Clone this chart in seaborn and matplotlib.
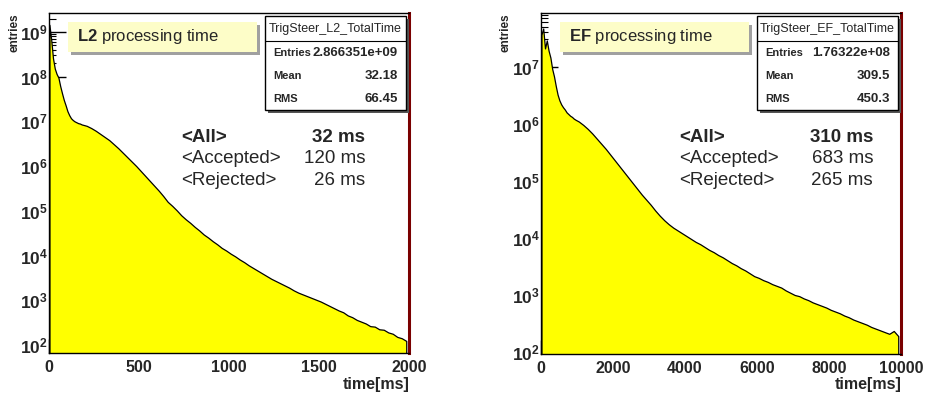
import numpy as np
import pandas as pd
import matplotlib
matplotlib.use("Agg")
import matplotlib.pyplot as plt
from matplotlib.patches import Rectangle
from matplotlib.lines import Line2D
from matplotlib.ticker import LogLocator, MultipleLocator, FixedLocator, FuncFormatter, NullFormatter
import seaborn as sns

# L2 histogram: bin edges [ms] and log10(entries) per bin
l2_edges = np.concatenate([np.arange(0, 200, 10), np.arange(200, 2001, 25)])
l2_log_entries = [
    9.15, 8.82, 8.40, 8.17, 8.05, 7.97, 7.78, 7.62, 7.47, 7.35,
    7.22, 7.13, 7.06, 7.02, 6.99, 6.97, 6.95, 6.94, 6.92, 6.91,
    6.89, 6.84, 6.78, 6.71, 6.64, 6.57, 6.48, 6.39,
    6.29, 6.19, 6.09, 5.99, 5.88, 5.77, 5.66, 5.55,
    5.44, 5.32, 5.19, 5.10, 5.00, 4.89, 4.80, 4.72,
    4.63, 4.55, 4.46, 4.39, 4.31, 4.24, 4.16, 4.10,
    4.03, 3.97, 3.90, 3.84, 3.77, 3.71, 3.65, 3.59,
    3.53, 3.47, 3.42, 3.37, 3.32, 3.27, 3.21, 3.16,
    3.12, 3.08, 3.04, 3.00, 2.96, 2.91, 2.86, 2.81,
    2.76, 2.72, 2.65, 2.61, 2.55, 2.51, 2.47, 2.41,
    2.40, 2.34, 2.33, 2.27, 2.24, 2.17, 2.14, 2.08,
]
l2_decades = [2, 3, 4, 5, 6, 7, 8, 9]

# EF histogram
ef_edges = np.concatenate([np.arange(0, 1000, 50), np.arange(1000, 10001, 125)])
ef_log_entries = [
    7.55, 7.66, 7.31, 7.45, 7.27, 7.15, 6.95, 6.82, 6.65, 6.50,
    6.40, 6.33, 6.28, 6.24, 6.19, 6.16, 6.13, 6.11, 6.08, 6.06,
    6.03, 5.97, 5.90, 5.82, 5.73, 5.64, 5.55, 5.45,
    5.35, 5.25, 5.15, 5.05, 4.95, 4.85, 4.75, 4.66,
    4.57, 4.47, 4.38, 4.30, 4.23, 4.17, 4.12, 4.07,
    4.02, 3.97, 3.92, 3.88, 3.83, 3.78, 3.74, 3.69,
    3.65, 3.60, 3.55, 3.51, 3.46, 3.42, 3.37, 3.32,
    3.29, 3.25, 3.22, 3.18, 3.15, 3.12, 3.07, 3.03,
    2.99, 2.97, 2.93, 2.90, 2.86, 2.83, 2.80, 2.77,
    2.73, 2.70, 2.67, 2.63, 2.60, 2.56, 2.53, 2.50,
    2.47, 2.43, 2.40, 2.37, 2.34, 2.31, 2.36, 2.27,
]
ef_decades = [2, 3, 4, 5, 6, 7]

hist_names = ["TrigSteer_L2_TotalTime", "TrigSteer_EF_TotalTime"]
stat_labels = ["Entries", "Mean", "RMS"]
l2_stats = ["2.866351e+09", "32.18", "66.45"]
ef_stats = ["1.76322e+08", "309.5", "450.3"]
levels = ["L2", "EF"]
mean_labels = ["<All>", "<Accepted>", "<Rejected>"]
l2_means = ["32 ms", "120 ms", "26 ms"]
ef_means = ["310 ms", "683 ms", "265 ms"]

sns.set_style("ticks")
plt.rcParams["font.family"] = ["Liberation Sans", "DejaVu Sans"]
plt.rcParams["mathtext.fontset"] = "custom"
plt.rcParams["mathtext.rm"] = "Liberation Sans"
plt.rcParams["mathtext.bf"] = "Liberation Sans:bold"
plt.rcParams["mathtext.it"] = "Liberation Sans:italic"

W, H = 925, 394
fig = plt.figure(figsize=(W / 100, H / 100), dpi=100)


def fx(px):
    return px / W


def fy(py):
    return 1 - py / H


def box(x0, y0, x1, y1, face, shadow, sh=3, lw=0.8, edge="none"):
    fig.add_artist(Rectangle((fx(x0 + sh), fy(y1 + sh)), fx(x1 - x0), (y1 - y0) / H,
                             transform=fig.transFigure, facecolor=shadow, edgecolor="none", zorder=5))
    fig.add_artist(Rectangle((fx(x0), fy(y1)), fx(x1 - x0), (y1 - y0) / H,
                             transform=fig.transFigure, facecolor=face, edgecolor=edge,
                             linewidth=lw, zorder=6))


def decade_label(v, pos):
    return r"$\mathbf{10^{%d}}$" % int(round(np.log10(v)))


panels = [
    dict(rect=[49, 13, 409, 353], edges=l2_edges, logs=l2_log_entries, xmax=2000,
         major=500, minor=100, ylim=(66.2, 2.66e9), decades=l2_decades,
         stats=l2_stats, means=l2_means),
    dict(rect=[541, 13, 901, 354], edges=ef_edges, logs=ef_log_entries, xmax=10000,
         major=2000, minor=500, ylim=(92.3, 8.7e7), decades=ef_decades,
         stats=ef_stats, means=ef_means),
]

for i, p in enumerate(panels):
    x0, y0, x1, y1 = p["rect"]
    ax = fig.add_axes([fx(x0), fy(y1), fx(x1 - x0), (y1 - y0) / H])
    ax.set_yscale("log")
    edges = p["edges"]
    df = pd.DataFrame({
        "time": (edges[:-1] + edges[1:]) / 2,
        "entries": 10 ** np.asarray(p["logs"]),
    })
    sns.histplot(data=df, x="time", weights="entries", bins=edges.tolist(),
                 element="poly", fill=True, color="#ffff00", edgecolor="black",
                 linewidth=0.9, alpha=1, ax=ax)
    ax.set_xlim(0, p["xmax"])
    ax.set_ylim(*p["ylim"])
    ax.set_xlabel("")
    ax.set_ylabel("")
    xt = np.arange(0, p["xmax"] + 1, p["major"])
    ax.set_xticks(xt, labels=[str(int(v)) for v in xt], fontweight="bold", fontsize=11.5)
    ax.xaxis.set_minor_locator(MultipleLocator(p["minor"]))
    ax.yaxis.set_major_locator(FixedLocator([10.0 ** d for d in p["decades"]]))
    ax.yaxis.set_major_formatter(FuncFormatter(decade_label))
    ax.yaxis.set_minor_locator(LogLocator(base=10, subs=np.arange(2, 10)))
    ax.yaxis.set_minor_formatter(NullFormatter())
    ax.tick_params(which="both", direction="in", top=False, right=False, color="black")
    ax.tick_params(axis="y", which="major", length=12, width=1.0, labelsize=12.5, pad=1)
    ax.tick_params(axis="x", which="major", length=10, width=1.0, pad=5)
    ax.tick_params(which="minor", length=5, width=0.8)
    for s in ["left", "bottom", "top"]:
        ax.spines[s].set_color("black")
        ax.spines[s].set_linewidth(1.0)
    ax.spines["right"].set_color("#7a0000")
    ax.spines["right"].set_linewidth(2.2)

    # axis titles
    fig.text(fx(x0 - 35), fy(13), "entries", rotation=90, ha="center", va="top",
             fontsize=8.5, fontweight="bold")
    fig.text(fx(x1 + 1), fy(385), "time[ms]", ha="right", va="center",
             fontsize=11.5, fontweight="bold")

    # level label box
    bx0 = 68 + (0 if i == 0 else 492)
    box(bx0, 22, bx0 + 189, 52, "#fdfdc8", "#a0a0a0")
    fig.text(fx(bx0 + 9), fy(37), r"$\mathbf{%s}$ processing time" % levels[i],
             ha="left", va="center", fontsize=12, zorder=7)

    # stats box
    sx0 = 265 + (0 if i == 0 else 492)
    sx1 = sx0 + 141
    box(sx0, 16, sx1, 110, "white", "#555555", sh=3, lw=1.0, edge="black")
    fig.add_artist(Line2D([fx(sx0), fx(sx1)], [fy(41), fy(41)], transform=fig.transFigure,
                          color="black", linewidth=0.8, zorder=7))
    fig.text(fx((sx0 + sx1) / 2), fy(29), hist_names[i], ha="center", va="center",
             fontsize=9, zorder=7)
    for k, (lab, val) in enumerate(zip(stat_labels, p["stats"])):
        yy = 53 + 23 * k
        fig.text(fx(sx0 + 8), fy(yy), lab, ha="left", va="center", fontsize=8,
                 fontweight="bold", zorder=7)
        fig.text(fx(sx1 - 8), fy(yy), val, ha="right", va="center", fontsize=9.5,
                 fontweight="bold", zorder=7)

    # mean processing times
    tx = 181 + (0 if i == 0 else 498)
    vx = 365 + (0 if i == 0 else 508)
    for k, (lab, val) in enumerate(zip(mean_labels, p["means"])):
        yy = 137 + 21.5 * k
        w = "bold" if k == 0 else "normal"
        fig.text(fx(tx), fy(yy), lab, ha="left", va="center", fontsize=13.5,
                 fontweight=w, zorder=7)
        fig.text(fx(vx), fy(yy), val, ha="right", va="center", fontsize=13.5,
                 fontweight=w, zorder=7)

fig.savefig("out.png", dpi=100)
